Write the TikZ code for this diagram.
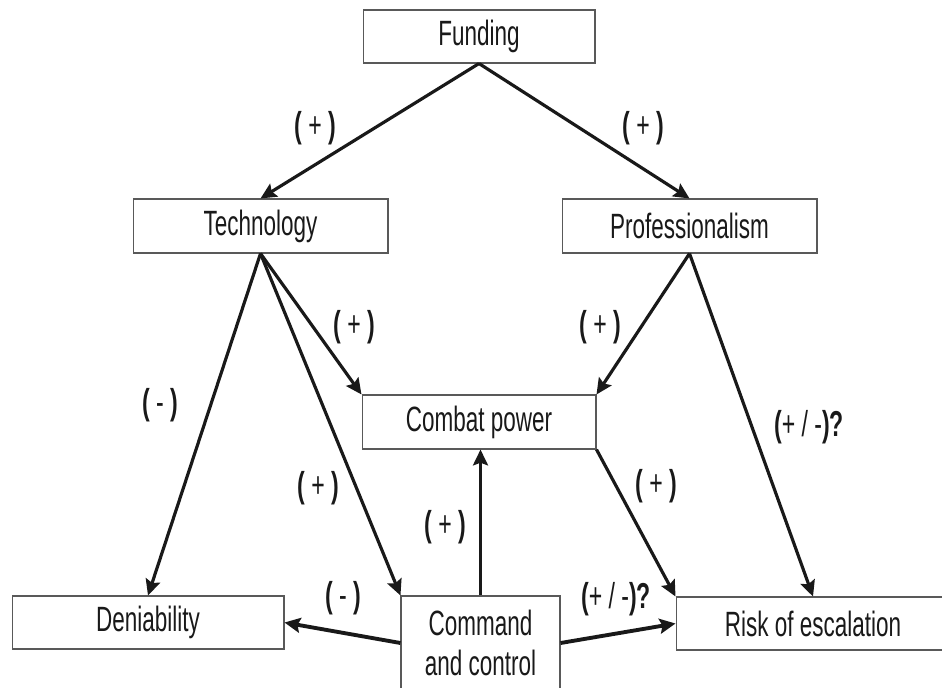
\documentclass[tikz,border=0pt]{standalone}
\usepackage{fontspec}
\setmainfont[FakeStretch=0.64]{Liberation Sans}
\usetikzlibrary{arrows.meta}

\begin{document}
\begin{tikzpicture}[x=0.02cm,y=-0.02cm,
    box/.style={draw=black!65,line width=0.6pt,inner sep=0pt,align=center,
      text=black!90,font=\fontsize{20}{22.7}\selectfont},
    arr/.style={line width=1.8pt,draw=black!90,
      -{Stealth[length=9pt,width=8.5pt,inset=1.5pt]}},
    lab/.style={text=black!90,font=\fontsize{20.5}{22}\selectfont}]
    \useasboundingbox (0,0) rectangle (942,687);
    \clip (0,0) rectangle (942,687);
    % boxes
    \node[box,minimum width=4.64cm,minimum height=1.06cm] (fund) at (479,36.5) {Funding};
    \node[box,minimum width=5.1cm,minimum height=1.08cm] (tech) at (260.5,226) {Technology};
    \node[box,minimum width=5.1cm,minimum height=1.08cm] (prof) at (689.5,226) {Professionalism};
    \node[box,minimum width=4.68cm,minimum height=1.08cm] (cp) at (479,422) {Combat power};
    \node[box,minimum width=5.44cm,minimum height=1.06cm] (den) at (148,622.5) {Deniability};
    \node[box,minimum width=3.18cm,minimum height=1.88cm] (cc) at (480.5,643) {Command\\and control};
    \node[box,minimum width=5.48cm,minimum height=1.06cm] (risk) at (813,623.5) {Risk of escalation};
    % arrows
    \draw[arr] (fund.south) -- (tech.north);
    \draw[arr] (fund.south) -- (prof.north);
    \draw[arr] (tech.south) -- (cp.north west);
    \draw[arr] (prof.south) -- (cp.north east);
    \draw[arr] (tech.south) -- (den.north);
    \draw[arr] (tech.south) -- (cc.north west);
    \draw[arr] (cc.north) -- (cc.north |- cp.south);
    \draw[arr] (cp.south east) -- (risk.north west);
    \draw[arr] (prof.south) -- (risk.north);
    \draw[arr,line width=2.2pt] (cc.west) -- (den.east);
    \draw[arr,line width=2.2pt] (cc.east) -- (risk.west);
    % labels
    \node[lab] (l1) at (315,128) {\textbf{(} + \textbf{)}};
    \node[lab] (l2) at (643,128) {\textbf{(} + \textbf{)}};
    \node[lab] (l3) at (354,327) {\textbf{(} + \textbf{)}};
    \node[lab] (l4) at (600,327) {\textbf{(} + \textbf{)}};
    \node[lab] (l5) at (160,405) {\textbf{(} - \textbf{)}};
    \node[lab] (l6) at (318,488) {\textbf{(} + \textbf{)}};
    \node[lab] (l7) at (445,527) {\textbf{(} + \textbf{)}};
    \node[lab] (l8) at (656,486) {\textbf{(} + \textbf{)}};
    \node[lab] (l9) at (809,427) {\textbf{(}+ / -\textbf{)?}};
    \node[lab] (l10) at (343,598) {\textbf{(} - \textbf{)}};
    \node[lab] (l11) at (616,599) {\textbf{(}+ / -\textbf{)?}};
\end{tikzpicture}
\end{document}
